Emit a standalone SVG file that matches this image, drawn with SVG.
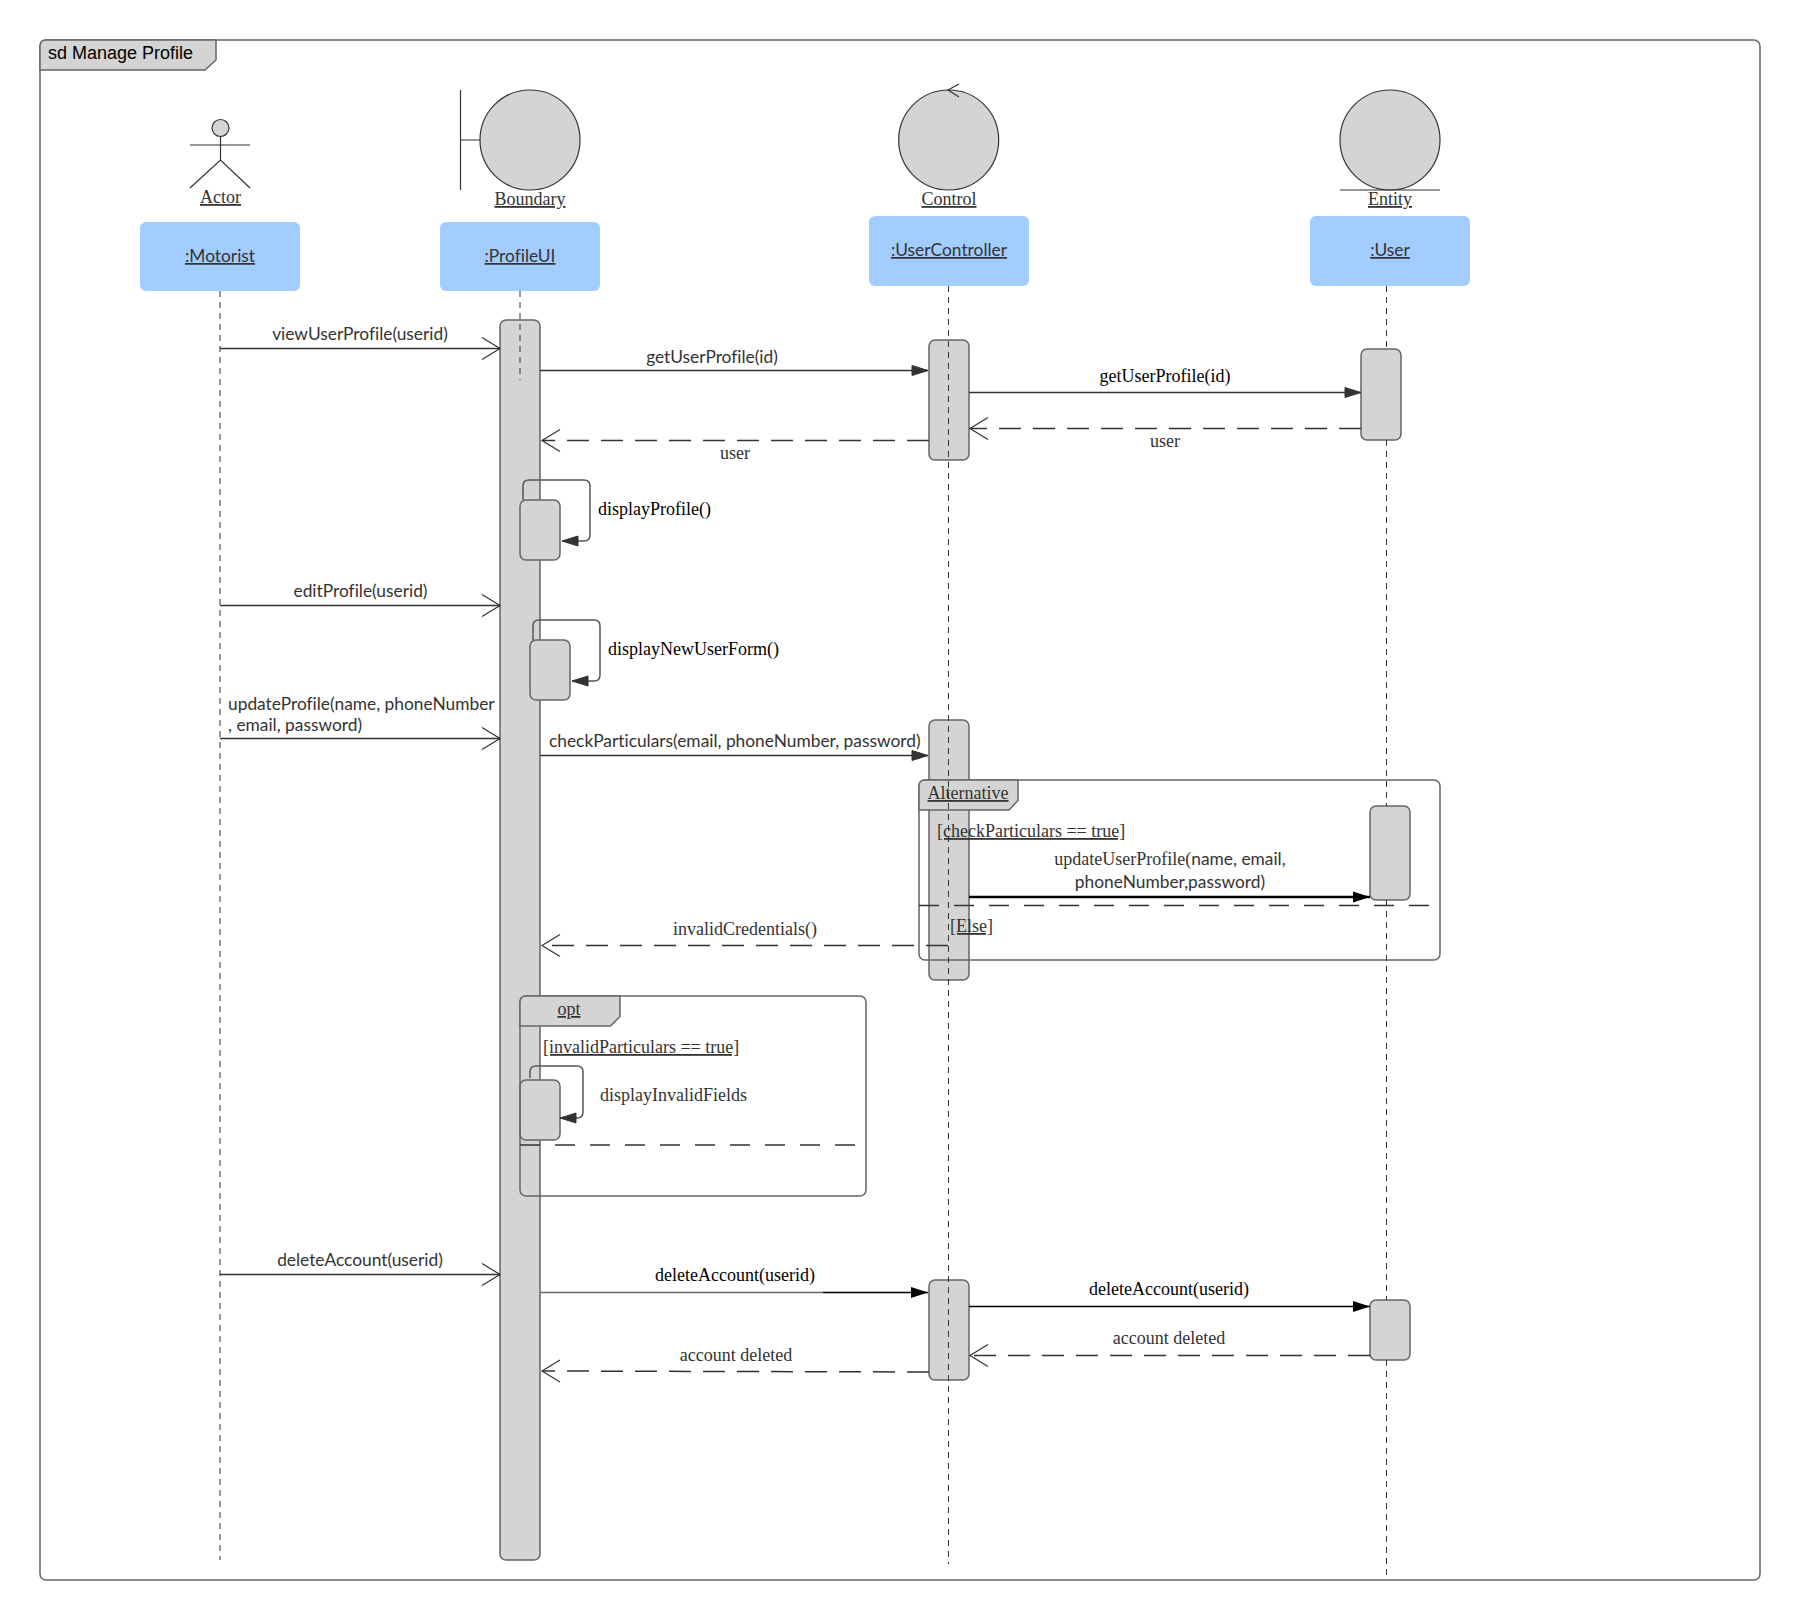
<svg xmlns="http://www.w3.org/2000/svg" width="1800" height="1621" viewBox="0 0 1800 1621">
<style>
text{fill:#333}
.pt{font-family:"Lato","Liberation Sans",sans-serif;font-size:17.350px;font-variant-ligatures:none}
.se{font-family:"Liberation Serif",serif;font-size:18px}
.bk{fill:#000}
.u{text-decoration:underline}
.m{text-anchor:middle}
.fig{fill:#d4d4d4;stroke:#333;stroke-width:1.2}
.act{fill:#d4d4d4;stroke:#666;stroke-width:1.5}
.box{fill:#a3ccff}
.stk{fill:none;stroke:#333;stroke-width:1.2}
.frm{fill:none;stroke:#666;stroke-width:1.5}
.tab{fill:#d4d4d4;stroke:#666;stroke-width:1.5}
.life{fill:none;stroke:#333;stroke-width:1;stroke-dasharray:6 5}
.msg{fill:none;stroke:#333;stroke-width:1.5}
.loop{fill:none;stroke:#555;stroke-width:1.5}
.ret{fill:none;stroke:#333;stroke-width:1.5;stroke-dasharray:22 12}
.sep{fill:none;stroke:#333;stroke-width:1.300;stroke-dasharray:20 15}
</style>
<defs>
<marker id="open" markerUnits="userSpaceOnUse" markerWidth="40" markerHeight="40" refX="20" refY="20" orient="auto"><path d="M2,9L20,20L2,31" fill="none" stroke="#333" stroke-width="1.2"/></marker>
<marker id="fill" markerUnits="userSpaceOnUse" markerWidth="40" markerHeight="40" refX="20" refY="20" orient="auto"><path d="M4,15L20,20L4,25Z" fill="#333" stroke="#333"/></marker>
<marker id="black" markerUnits="userSpaceOnUse" markerWidth="40" markerHeight="40" refX="20" refY="20" orient="auto"><path d="M3,14.500L20,20L3,25.500Z" fill="#000"/></marker>
</defs>
<g id="frame-sd">
<rect class="frm" x="40" y="40" width="1720" height="1540" rx="6"/>
<path class="tab" d="M46,40H216V60L205,70H40V46Q40,40 46,40Z"/>
<text x="48" y="59" font-family="Liberation Sans, sans-serif" font-size="18" class="bk">sd Manage Profile</text>
</g>
<g id="actor-motorist">
<ellipse class="fig" cx="220.500" cy="128" rx="8.500" ry="8.500"/>
<path class="stk" d="M190,145H250M220.500,137V160M190,188L220.500,160L250,188"/>
<text class="se u m" x="220.500" y="203">Actor</text>
<rect class="box" x="140" y="222" width="160" height="69" rx="6"/>
<text class="pt u m" x="220" y="262">:Motorist</text>
</g>
<g id="boundary-profileui">
<circle class="fig" cx="530" cy="140" r="50"/>
<path class="stk" d="M460.500,90V190M460.500,140H480"/>
<text class="se u m" x="530" y="205">Boundary</text>
<rect class="box" x="440" y="222" width="160" height="69" rx="6"/>
<text class="pt u m" x="520" y="262">:ProfileUI</text>
</g>
<g id="control-usercontroller">
<circle class="fig" cx="948.700" cy="140" r="50"/>
<path class="stk" d="M959,84L948,90L959,97"/>
<text class="se u m" x="949" y="205">Control</text>
<rect class="box" x="869" y="216" width="160" height="70" rx="6"/>
<text class="pt u m" x="949" y="256">:UserController</text>
</g>
<g id="entity-user">
<circle class="fig" cx="1390" cy="140" r="50"/>
<path class="stk" d="M1340,190H1440"/>
<text class="se u m" x="1390" y="205">Entity</text>
<rect class="box" x="1310" y="216" width="160" height="70" rx="6"/>
<text class="pt u m" x="1390" y="256">:User</text>
</g>
<g id="activation-profileui">
<rect class="act" x="500" y="320" width="40" height="1240" rx="6"/>
</g>
<g id="activation-displayprofile">
<rect class="act" x="520" y="500" width="40" height="60" rx="6"/>
</g>
<g id="activation-displaynewuserform">
<rect class="act" x="530" y="640" width="40" height="60" rx="6"/>
</g>
<g id="activation-displayinvalidfields">
<rect class="act" x="520" y="1080" width="40" height="60" rx="6"/>
</g>
<g id="activation-uc1">
<rect class="act" x="929" y="340" width="40" height="120" rx="6"/>
</g>
<g id="activation-uc2">
<rect class="act" x="929" y="720" width="40" height="260" rx="6"/>
</g>
<g id="activation-uc3">
<rect class="act" x="929" y="1280" width="40" height="100" rx="6"/>
</g>
<g id="activation-user1">
<rect class="act" x="1361" y="349" width="40" height="91" rx="6"/>
</g>
<g id="activation-user2">
<rect class="act" x="1370" y="806" width="40" height="94" rx="6"/>
</g>
<g id="activation-user3">
<rect class="act" x="1370" y="1300" width="40" height="60" rx="6"/>
</g>
<g id="frame-alternative">
<rect class="frm" x="919" y="780" width="521" height="180" rx="6"/>
<path class="tab" d="M925,780H1018V800.500L1009,810H919V786Q919,780 925,780Z"/>
<text class="se u m" x="968" y="799">Alternative</text>
<text class="se u" x="937" y="837">[checkParticulars == true]</text>
<text class="se u" x="950" y="932">[Else]</text>
</g>
<g id="frame-opt">
<rect class="frm" x="520" y="996" width="346" height="200" rx="6"/>
<path class="tab" d="M526,996H620V1016.500L610.500,1026H520V1002Q520,996 526,996Z"/>
<text class="se u m" x="569" y="1015">opt</text>
<text class="se u" x="543" y="1053">[invalidParticulars == true]</text>
</g>
<g id="connectors">
<path class="life" d="M220,291V1560"/>
<path class="life" d="M520,291V380"/>
<path class="life" d="M948.500,286V1564"/>
<path class="life" d="M1386.500,286V349M1386.500,440V806M1386.500,900V1300M1386.500,1360V1580"/>
<path class="sep" d="M919,905.500H1429"/>
<path class="sep" d="M520,1145H855"/>
<path class="msg" marker-end="url(#open)" d="M220,348.500H500"/>
<text class="pt m" x="360" y="340">viewUserProfile(userid)</text>
<path class="msg" marker-end="url(#fill)" d="M540,370.500H928"/>
<text class="pt m" x="712" y="363">getUserProfile(id)</text>
<path class="msg" marker-end="url(#fill)" d="M969,392.500H1361"/>
<text class="se bk m" x="1165" y="382">getUserProfile(id)</text>
<path class="ret" marker-end="url(#open)" d="M1361,428.500H970"/>
<text class="se m" x="1165" y="447">user</text>
<path class="ret" marker-end="url(#open)" d="M929,440.500H542"/>
<text class="se m" x="735" y="459">user</text>
<path class="loop" marker-end="url(#fill)" d="M523,500V486Q523,480 529,480H584Q590,480 590,486V535Q590,541 584,541H562"/>
<text class="se bk" x="598" y="515">displayProfile()</text>
<path class="msg" marker-end="url(#open)" d="M220,605.500H500"/>
<text class="pt m" x="360.500" y="597">editProfile(userid)</text>
<path class="loop" marker-end="url(#fill)" d="M533,640V626Q533,620 539,620H594Q600,620 600,626V675Q600,681 594,681H572"/>
<text class="se bk" x="608" y="655">displayNewUserForm()</text>
<path class="msg" marker-end="url(#open)" d="M220,738.500H500"/>
<text class="pt" x="228" y="710">updateProfile(name, phoneNumber</text>
<text class="pt" x="228" y="730.500">, email, password)</text>
<path class="msg" marker-end="url(#fill)" d="M540,755.500H928"/>
<text class="pt" x="549" y="747">checkParticulars(email, phoneNumber, password)</text>
<path style="fill:none;stroke:#000;stroke-width:2.500" marker-end="url(#black)" d="M969,897H1370"/>
<text class="m" x="1170" y="865"><tspan class="se">updateUserProfile(</tspan><tspan class="pt">name, email,</tspan></text>
<text class="pt m" x="1170" y="888">phoneNumber,password)</text>
<path class="ret" marker-end="url(#open)" d="M948,945.500H542"/>
<text class="se m" x="745" y="935">invalidCredentials()</text>
<path class="loop" marker-end="url(#fill)" d="M530,1078V1072Q530,1066 536,1066H577Q583,1066 583,1072V1112Q583,1118 577,1118H560"/>
<text class="se" x="600" y="1101">displayInvalidFields</text>
<path class="msg" marker-end="url(#open)" d="M220,1274.500H500"/>
<text class="pt m" x="360" y="1266">deleteAccount(userid)</text>
<path style="fill:none;stroke:#666;stroke-width:1.500" d="M540,1292.500H823"/>
<path class="msg" style="stroke:#000" marker-end="url(#black)" d="M823,1292.500H928"/>
<text class="se bk m" x="735" y="1281">deleteAccount(userid)</text>
<path class="msg" style="stroke:#000" marker-end="url(#black)" d="M969,1306.500H1370"/>
<text class="se bk m" x="1169" y="1295">deleteAccount(userid)</text>
<path class="ret" marker-end="url(#open)" d="M1370,1355.500H970"/>
<text class="se m" x="1169" y="1344">account deleted</text>
<path class="ret" marker-end="url(#open)" d="M929,1372L542,1371"/>
<text class="se m" x="736" y="1361">account deleted</text>
</g>
</svg>
